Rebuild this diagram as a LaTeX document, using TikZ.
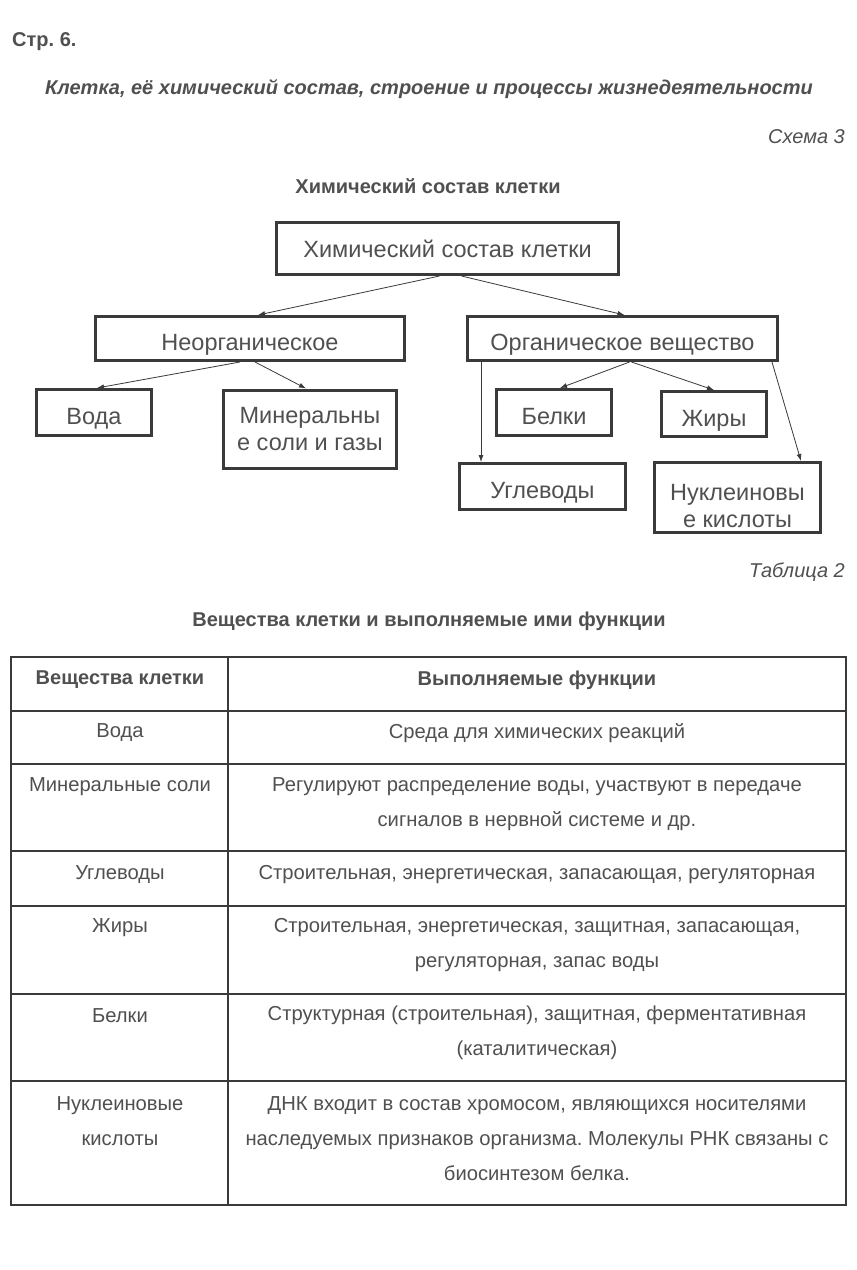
\documentclass[tikz,border=0pt]{standalone}
\usepackage{fontspec}
\setmainfont{Liberation Sans}
\usetikzlibrary{arrows.meta}
\frenchspacing
\definecolor{inkgray}{HTML}{505050}
\definecolor{framegray}{HTML}{3A3A3A}
\newlength{\BoxLine}
\newlength{\RuleLine}
\setlength{\BoxLine}{3pt}
\setlength{\RuleLine}{2pt}
\newcommand{\boxfont}{\fontsize{23.5}{27}\selectfont}
\newcommand{\cellfont}{\fontsize{20.2}{35}\selectfont}
\tikzset{
  chem box/.style={draw=framegray, line width=\BoxLine, rectangle, inner sep=0pt,
    text=inkgray, font=\boxfont, text height=25pt, text depth=1pt},
  two line box/.style={chem box, align=center, text height=, text depth=},
  cell text/.style={text=inkgray, font=\cellfont, align=center, inner sep=0pt},
  head text/.style={text=inkgray, font=\fontsize{20}{24}\selectfont\bfseries, inner sep=0pt},
  link/.style={->, draw=framegray, line width=0.8pt},
}

\begin{document}
\begin{tikzpicture}[
    x=1pt, y=-1pt,
    >={Latex[length=7pt,width=5pt]}
  ]
  \useasboundingbox[fill=white] (0,0) rectangle (857,1270);

  % page heading
  \node[head text, anchor=west] (page) at (12,42) {Стр. 6.};
  \node[head text, font=\fontsize{20}{24}\selectfont\bfseries\itshape] (topic) at (429,89)
    {Клетка, её химический состав, строение и процессы жизнедеятельности};
  \node[text=inkgray, font=\fontsize{20}{24}\selectfont\itshape, anchor=east, inner sep=0pt] (scheme) at (845,137) {Схема 3};
  \node[head text] (schemetitle) at (428,186) {Химический состав клетки};

  % scheme
  \node[chem box, text height=18pt, text depth=0pt, minimum width=342pt, minimum height=52pt] (sostav) at (447.5,248.5) {Химический состав клетки};
  \node[chem box, minimum width=309pt, minimum height=44pt] (neorg) at (250,338.5) {Неорганическое};
  \node[chem box, minimum width=310pt, minimum height=44pt] (org) at (622.5,338.5) {Органическое вещество};
  \node[chem box, minimum width=115pt, minimum height=46pt] (voda) at (94,412.5) {Вода};
  \node[two line box, minimum width=173pt, minimum height=78pt] (mineral) at (310,429) {Минеральны\\е соли и газы};
  \node[chem box, minimum width=115pt, minimum height=46pt] (belki) at (554,412.5) {Белки};
  \node[chem box, minimum width=105pt, minimum height=45pt] (zhiry) at (714,414) {Жиры};
  \node[chem box, minimum width=166pt, minimum height=46pt] (uglevody) at (542.5,486.5) {Углеводы};
  \node[two line box, minimum width=166pt, minimum height=70pt] (nuklein) at (737.5,497.5) {\rule{0pt}{34pt}Нуклеиновы\\е кислоты};

  \draw[link] ([xshift=-8pt]sostav.south) -- ([xshift=8pt]neorg.north);
  \draw[link] ([xshift=14pt]sostav.south) -- ([xshift=2pt]org.north);
  \draw[link] ([xshift=-10pt]neorg.south) -- ([xshift=3pt]voda.north);
  \draw[link] ([xshift=5pt]neorg.south) -- ([xshift=-4pt]mineral.north);
  \draw[link] ([xshift=15pt]org.south west) -- ([xshift=23pt]uglevody.north west);
  \draw[link] ([xshift=7pt]org.south) -- ([xshift=6pt]belki.north);
  \draw[link] ([xshift=9pt]org.south) -- (zhiry.north);
  \draw[link] ([xshift=-7pt]org.south east) -- ([xshift=-21pt]nuklein.north east);

  % table
  \node[text=inkgray, font=\fontsize{20}{24}\selectfont\itshape, anchor=east, inner sep=0pt] (tablenum) at (845,572) {Таблица 2};
  \node[head text] (tabletitle) at (429,621) {Вещества клетки и выполняемые ими функции};

  \draw[framegray, line width=\RuleLine] (11,657) rectangle (846,1205);
  \draw[framegray, line width=\RuleLine] (228,657) -- (228,1205);
  \foreach \y in {711,764,851,906,994,1081}
    \draw[framegray, line width=\RuleLine] (11,\y) -- (846,\y);

  \node[head text] (hsubst) at (120,680) {Вещества клетки};
  \node[head text] (hfunc) at (537,680) {Выполняемые функции};

  \node[cell text] (svoda) at (120,733) {Вода};
  \node[cell text] (fvoda) at (537,733) {Среда для химических реакций};
  \node[cell text] (smineral) at (120,787) {Минеральные соли};
  \node[cell text] (fmineral) at (537,804) {Регулируют распределение воды, участвуют в передаче\\сигналов в нервной системе и др.};
  \node[cell text] (suglevody) at (120,875) {Углеводы};
  \node[cell text] (fuglevody) at (537,875) {Строительная, энергетическая, запасающая, регуляторная};
  \node[cell text] (szhiry) at (120,928) {Жиры};
  \node[cell text] (fzhiry) at (537,945) {Строительная, энергетическая, защитная, запасающая,\\регуляторная, запас воды};
  \node[cell text] (sbelki) at (120,1016) {Белки};
  \node[cell text] (fbelki) at (537,1033) {Структурная (строительная), защитная, ферментативная\\(каталитическая)};
  \node[cell text] (snuklein) at (120,1121) {Нуклеиновые\\кислоты};
  \node[cell text] (fnuklein) at (537,1139) {ДНК входит в состав хромосом, являющихся носителями\\наследуемых признаков организма. Молекулы РНК связаны с\\биосинтезом белка.};
\end{tikzpicture}
\end{document}
